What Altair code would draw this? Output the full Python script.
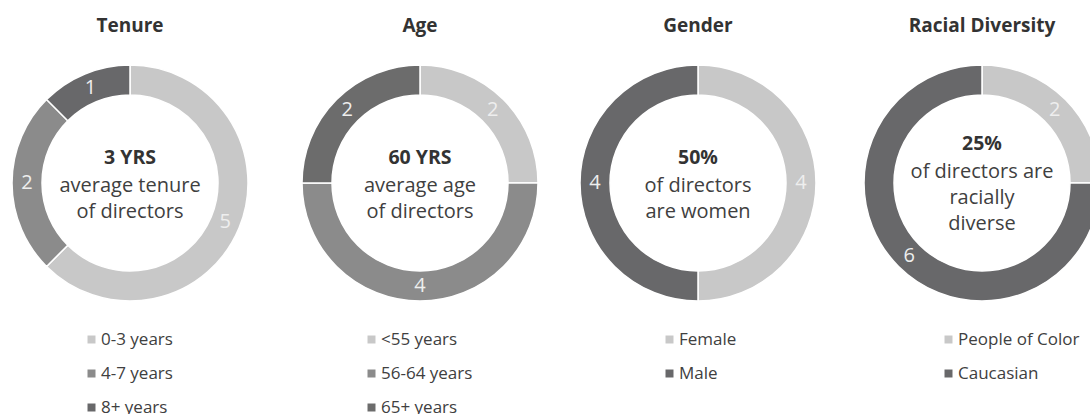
import altair as alt
import pandas as pd

titles = ["Tenure", "Age", "Gender", "Racial Diversity"]
headlines = ["3 YRS", "60 YRS", "50%", "25%"]
captions = [
    ["average tenure", "of directors"],
    ["average age", "of directors"],
    ["of directors", "are women"],
    ["of directors are", "racially", "diverse"],
]

tenure_cats = ["0-3 years", "4-7 years", "8+ years"]
tenure_vals = [5, 2, 1]
age_cats = ["<55 years", "56-64 years", "65+ years"]
age_vals = [2, 4, 2]
gender_cats = ["Female", "Male"]
gender_vals = [4, 4]
race_cats = ["People of Color", "Caucasian"]
race_vals = [2, 6]

LIGHT, MID, DARK = "#c8c8c8", "#8b8b8b", "#68686a"
palettes = [[LIGHT, MID, DARK], [LIGHT, MID, "#6c6c6c"], [LIGHT, DARK], [LIGHT, DARK]]

FONT = "Open Sans"
panel_widths = [290, 278, 284, 238]
legend_xs = [83, 73, 93, 88]
CX, CY = 130, 183
H = 414


def panel(i, cats, vals):
    df = pd.DataFrame({"cat": cats, "n": vals, "order": list(range(len(cats)))})
    color = alt.Color(
        "cat:N",
        sort=cats,
        scale=alt.Scale(domain=cats, range=palettes[i]),
        legend=alt.Legend(
            orient="none", legendX=legend_xs[i], legendY=331, title=None,
            symbolType="square", symbolSize=64, symbolStrokeWidth=0,
            labelFont=FONT, labelFontSize=17, labelColor="#404040",
            rowPadding=16, labelOffset=1, padding=0,
        ),
    )
    base = alt.Chart(df)
    arc = base.mark_arc(outerRadius=118, innerRadius=88, stroke="white",
                        strokeWidth=1.5, clip=True).encode(
        theta=alt.Theta("n:Q", stack=True),
        color=color,
        order=alt.Order("order:Q"),
        x=alt.value(CX), y=alt.value(CY),
    )
    nums = base.mark_text(radius=103, fontSize=20, font=FONT, color="#eeeeee",
                          clip=True).encode(
        theta=alt.Theta("n:Q", stack=True),
        detail="cat:N",
        order=alt.Order("order:Q"),
        text="n:Q",
        x=alt.value(CX), y=alt.value(CY),
    )
    title = alt.Chart(pd.DataFrame({"t": [titles[i]]})).mark_text(
        font=FONT, fontSize=19, fontWeight="bold", color="#333333"
    ).encode(text="t:N", x=alt.value(CX), y=alt.value(26))
    nlines = len(captions[i])
    first_line = 200 - (nlines - 1) * 14
    head = alt.Chart(pd.DataFrame({"t": [headlines[i]]})).mark_text(
        font=FONT, fontSize=19.5, fontWeight="bold", color="#333333"
    ).encode(text="t:N", x=alt.value(CX), y=alt.value(first_line - 28))
    cap = alt.Chart(pd.DataFrame({"t": ["\n".join(captions[i])]})).mark_text(
        font=FONT, fontSize=20, color="#404040", lineBreak="\n", lineHeight=26,
        baseline="middle"
    ).encode(text="t:N", x=alt.value(CX), y=alt.value(first_line))
    return alt.layer(arc, nums, title, head, cap).properties(
        width=panel_widths[i], height=H
    )


panels = [
    panel(0, tenure_cats, tenure_vals),
    panel(1, age_cats, age_vals),
    panel(2, gender_cats, gender_vals),
    panel(3, race_cats, race_vals),
]

chart = alt.hconcat(*panels, spacing=0).resolve_scale(color="independent").configure(
    padding=0, background="white"
).configure_view(strokeWidth=0)

chart.save("out.html", embed_options={"renderer": "svg", "actions": False})
